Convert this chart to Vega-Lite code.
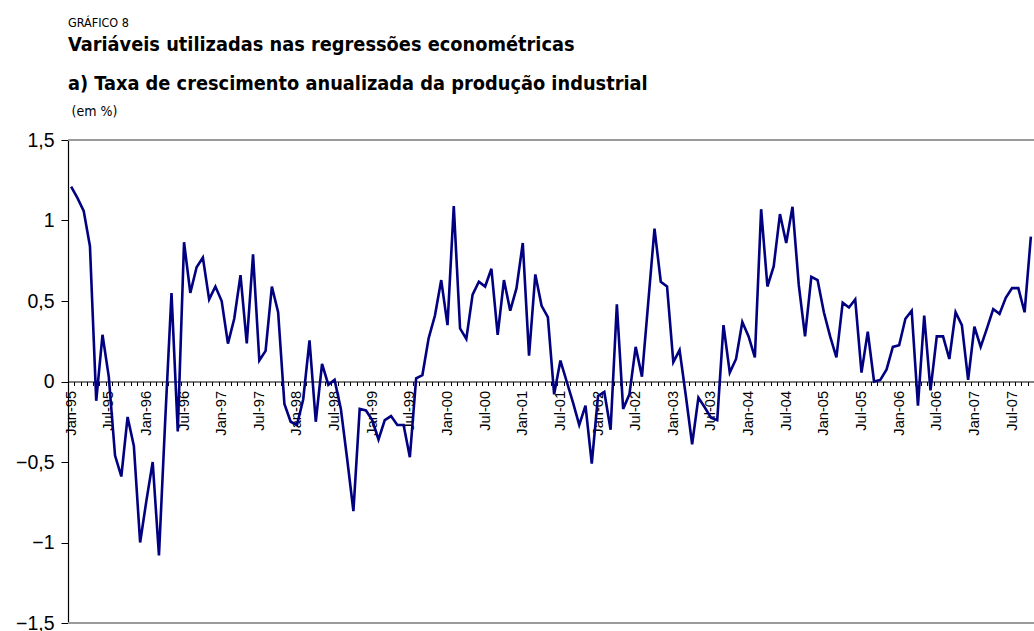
{
  "$schema": "https://vega.github.io/schema/vega-lite/v6.json",
  "autosize": "none",
  "width": 966,
  "height": 483,
  "padding": {"left": 68, "top": 140, "right": 0, "bottom": 8},
  "background": "white",
  "config": {"view": {"stroke": null}},
  "title": {
    "text": "GRÁFICO 8",
    "subtitle": ["Variáveis utilizadas nas regressões econométricas", "a) Taxa de crescimento anualizada da produção industrial"],
    "anchor": "start",
    "frame": "group",
    "font": "Liberation Sans Narrow, DejaVu Sans Condensed, Roboto, sans-serif",
    "fontSize": 12.5,
    "fontWeight": "normal",
    "color": "#000000",
    "subtitleFont": "Liberation Sans Narrow, DejaVu Sans Condensed, Roboto, sans-serif",
    "subtitleFontSize": 19.8,
    "subtitleFontWeight": "bold",
    "subtitleColor": "#000000",
    "subtitleLineHeight": 39,
    "subtitlePadding": 6,
    "offset": 10
  },
  "data": {"values": [
    {"m":"Jan-95","v":1.21},{"m":"Feb-95","v":1.14},{"m":"Mar-95","v":1.06},{"m":"Apr-95","v":0.84},{"m":"May-95","v":-0.12},{"m":"Jun-95","v":0.29},
    {"m":"Jul-95","v":0.03},{"m":"Aug-95","v":-0.46},{"m":"Sep-95","v":-0.59},{"m":"Oct-95","v":-0.22},{"m":"Nov-95","v":-0.40},{"m":"Dec-95","v":-1.00},
    {"m":"Jan-96","v":-0.74},{"m":"Feb-96","v":-0.50},{"m":"Mar-96","v":-1.08},{"m":"Apr-96","v":-0.24},{"m":"May-96","v":0.55},{"m":"Jun-96","v":-0.31},
    {"m":"Jul-96","v":0.865},{"m":"Aug-96","v":0.55},{"m":"Sep-96","v":0.71},{"m":"Oct-96","v":0.77},{"m":"Nov-96","v":0.51},{"m":"Dec-96","v":0.59},
    {"m":"Jan-97","v":0.50},{"m":"Feb-97","v":0.235},{"m":"Mar-97","v":0.39},{"m":"Apr-97","v":0.66},{"m":"May-97","v":0.236},{"m":"Jun-97","v":0.79},
    {"m":"Jul-97","v":0.13},{"m":"Aug-97","v":0.19},{"m":"Sep-97","v":0.59},{"m":"Oct-97","v":0.43},{"m":"Nov-97","v":-0.14},{"m":"Dec-97","v":-0.25},
    {"m":"Jan-98","v":-0.27},{"m":"Feb-98","v":-0.11},{"m":"Mar-98","v":0.255},{"m":"Apr-98","v":-0.25},{"m":"May-98","v":0.11},{"m":"Jun-98","v":-0.02},
    {"m":"Jul-98","v":0.01},{"m":"Aug-98","v":-0.17},{"m":"Sep-98","v":-0.48},{"m":"Oct-98","v":-0.805},{"m":"Nov-98","v":-0.17},{"m":"Dec-98","v":-0.18},
    {"m":"Jan-99","v":-0.24},{"m":"Feb-99","v":-0.36},{"m":"Mar-99","v":-0.24},{"m":"Apr-99","v":-0.215},{"m":"May-99","v":-0.27},{"m":"Jun-99","v":-0.27},
    {"m":"Jul-99","v":-0.47},{"m":"Aug-99","v":0.02},{"m":"Sep-99","v":0.04},{"m":"Oct-99","v":0.27},{"m":"Nov-99","v":0.41},{"m":"Dec-99","v":0.63},
    {"m":"Jan-00","v":0.35},{"m":"Feb-00","v":1.09},{"m":"Mar-00","v":0.33},{"m":"Apr-00","v":0.265},{"m":"May-00","v":0.54},{"m":"Jun-00","v":0.62},
    {"m":"Jul-00","v":0.59},{"m":"Aug-00","v":0.70},{"m":"Sep-00","v":0.29},{"m":"Oct-00","v":0.63},{"m":"Nov-00","v":0.44},{"m":"Dec-00","v":0.58},
    {"m":"Jan-01","v":0.86},{"m":"Feb-01","v":0.16},{"m":"Mar-01","v":0.665},{"m":"Apr-01","v":0.47},{"m":"May-01","v":0.40},{"m":"Jun-01","v":-0.08},
    {"m":"Jul-01","v":0.13},{"m":"Aug-01","v":0.00},{"m":"Sep-01","v":-0.13},{"m":"Oct-01","v":-0.27},{"m":"Nov-01","v":-0.15},{"m":"Dec-01","v":-0.51},
    {"m":"Jan-02","v":-0.09},{"m":"Feb-02","v":-0.065},{"m":"Mar-02","v":-0.30},{"m":"Apr-02","v":0.48},{"m":"May-02","v":-0.17},{"m":"Jun-02","v":-0.08},
    {"m":"Jul-02","v":0.215},{"m":"Aug-02","v":0.03},{"m":"Sep-02","v":0.49},{"m":"Oct-02","v":0.95},{"m":"Nov-02","v":0.62},{"m":"Dec-02","v":0.59},
    {"m":"Jan-03","v":0.12},{"m":"Feb-03","v":0.195},{"m":"Mar-03","v":-0.09},{"m":"Apr-03","v":-0.39},{"m":"May-03","v":-0.10},{"m":"Jun-03","v":-0.16},
    {"m":"Jul-03","v":-0.225},{"m":"Aug-03","v":-0.24},{"m":"Sep-03","v":0.35},{"m":"Oct-03","v":0.055},{"m":"Nov-03","v":0.14},{"m":"Dec-03","v":0.37},
    {"m":"Jan-04","v":0.28},{"m":"Feb-04","v":0.15},{"m":"Mar-04","v":1.07},{"m":"Apr-04","v":0.59},{"m":"May-04","v":0.715},{"m":"Jun-04","v":1.04},
    {"m":"Jul-04","v":0.86},{"m":"Aug-04","v":1.085},{"m":"Sep-04","v":0.60},{"m":"Oct-04","v":0.28},{"m":"Nov-04","v":0.65},{"m":"Dec-04","v":0.63},
    {"m":"Jan-05","v":0.43},{"m":"Feb-05","v":0.28},{"m":"Mar-05","v":0.15},{"m":"Apr-05","v":0.49},{"m":"May-05","v":0.46},{"m":"Jun-05","v":0.51},
    {"m":"Jul-05","v":0.055},{"m":"Aug-05","v":0.31},{"m":"Sep-05","v":0.00},{"m":"Oct-05","v":0.01},{"m":"Nov-05","v":0.075},{"m":"Dec-05","v":0.215},
    {"m":"Jan-06","v":0.225},{"m":"Feb-06","v":0.39},{"m":"Mar-06","v":0.44},{"m":"Apr-06","v":-0.15},{"m":"May-06","v":0.41},{"m":"Jun-06","v":-0.055},
    {"m":"Jul-06","v":0.28},{"m":"Aug-06","v":0.28},{"m":"Sep-06","v":0.14},{"m":"Oct-06","v":0.43},{"m":"Nov-06","v":0.35},{"m":"Dec-06","v":0.01},
    {"m":"Jan-07","v":0.34},{"m":"Feb-07","v":0.215},{"m":"Mar-07","v":0.33},{"m":"Apr-07","v":0.45},{"m":"May-07","v":0.42},{"m":"Jun-07","v":0.52},
    {"m":"Jul-07","v":0.58},{"m":"Aug-07","v":0.58},{"m":"Sep-07","v":0.43},{"m":"Oct-07","v":0.90}
  ]},
  "layer": [
    {
      "mark": {"type": "line", "color": "#000080", "strokeWidth": 2.6},
      "encoding": {
        "x": {
          "field": "m", "type": "ordinal", "sort": null,
          "scale": {"paddingInner": 0, "paddingOuter": 0},
          "axis": {
            "title": null,
            "orient": "bottom",
            "offset": -241.5,
            "domainColor": "#000000",
            "domainWidth": 1.2,
            "tickColor": "#000000",
            "tickSize": 4,
            "tickWidth": 1,
            "tickOffset": -3.14,
            "labelOffset": 3.14,
            "labelAngle": -90,
            "labelFont": "Liberation Sans, Arial, sans-serif",
            "labelFontSize": 14.6,
            "labelColor": "#000000",
            "labelPadding": 5,
            "labelOverlap": false,
            "labelExpr": "(slice(datum.value, 0, 3) == 'Jan' || slice(datum.value, 0, 3) == 'Jul') ? datum.value : ''"
          }
        },
        "y": {
          "field": "v", "type": "quantitative",
          "scale": {"domain": [-1.5, 1.5], "nice": false, "zero": false},
          "axis": {
            "title": "(em %)",
            "titleAngle": 0,
            "titleX": 3,
            "titleY": -25,
            "titleAlign": "left",
            "titleBaseline": "alphabetic",
            "titleFont": "Liberation Sans Narrow, DejaVu Sans Condensed, Roboto, sans-serif",
            "titleFontSize": 14,
            "titleFontWeight": "normal",
            "titleColor": "#000000",
            "values": [-1.5, -1, -0.5, 0, 0.5, 1, 1.5],
            "labelExpr": "(datum.value < 0 ? '−' : '') + replace(format(abs(datum.value), '~g'), '.', ',')",
            "labelFont": "Liberation Sans, Arial, sans-serif",
            "labelFontSize": 19.5,
            "labelColor": "#000000",
            "labelPadding": 7,
            "tickSize": 7,
            "tickColor": "#000000",
            "domainColor": "#000000",
            "domainWidth": 1.2,
            "grid": false
          }
        }
      }
    },
    {
      "mark": {"type": "rule", "color": "#9a9a9a", "strokeWidth": 1.5},
      "encoding": {"y": {"datum": 1.5, "type": "quantitative"}}
    },
    {
      "mark": {"type": "rule", "color": "#9a9a9a", "strokeWidth": 1.5},
      "encoding": {"y": {"datum": -1.5, "type": "quantitative"}}
    }
  ]
}
